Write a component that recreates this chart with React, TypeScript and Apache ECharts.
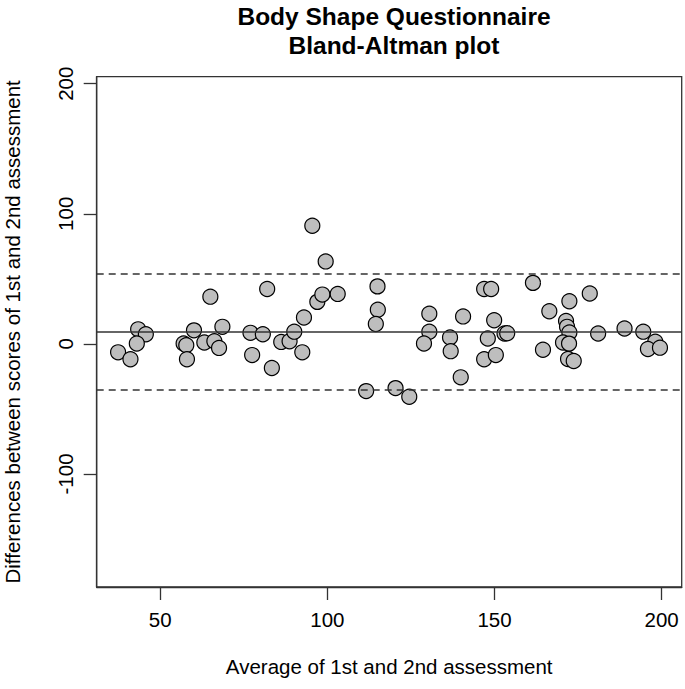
import React, { useEffect, useRef } from "react";
import * as echarts from "echarts";

// Average of 1st and 2nd assessment (x)
const avgScores = [
  37.4, 41.1, 43.4, 45.7, 43.0, 57.0, 57.8, 58.0, 60.1, 65.0, 63.2, 66.2, 67.6, 68.6,
  77.0, 77.5, 80.7, 82.0, 83.4, 86.2, 88.7, 90.1,
  95.5, 99.5, 93.0, 92.5, 97.0, 98.5, 103.1, 115.0, 115.1, 114.5, 111.6, 120.4, 124.5,
  130.5, 130.5, 128.9, 136.7, 136.9, 140.6, 139.9, 146.9, 146.9, 148.0,
  149.0, 149.9, 153.0, 153.8, 150.4, 161.5, 166.4, 172.4, 178.5, 171.4, 171.7, 172.4,
  170.5, 172.3, 164.5, 172.0, 173.7, 181.0, 188.9, 194.5, 198.1, 195.9, 199.5,
];
// Differences between scores of 1st and 2nd assessment (y)
const diffScores = [
  -6.5, -11.8, 11.2, 7.4, 0.3, 0.3, -1.0, -11.8, 10.4, 36.3, 1.1, 2.1, -3.1, 13.1,
  8.5, -8.6, 7.4, 42.2, -18.5, 1.5, 2.0, 9.4,
  90.8, 63.4, 20.3, -6.5, 32.3, 37.9, 38.4, 44.2, 26.3, 15.3, -36.3, -34.0, -40.6,
  23.2, 9.4, 0.3, 4.9, -5.6, 21.1, -25.7, 42.2, -11.8, 4.1,
  42.2, 18.2, 8.0, 8.2, -8.6, 46.9, 25.1, 32.8, 38.7, 17.6, 13.1, 8.8,
  1.1, 0.2, -4.5, -11.6, -13.2, 8.0, 11.8, 9.4, 1.7, -3.9, -2.9,
];

const meanDiff = 9.4;
const upperLoA = 53.8;
const lowerLoA = -35.0;

const xTicks = [50, 100, 150, 200];
const yTicks = [-100, 0, 100, 200];

const titleText = "Body Shape Questionnaire\nBland-Altman plot";
const xTitle = "Average of 1st and 2nd assessment";
const yTitle = "Differences between scores of 1st and 2nd assessment";

const FONT = "'Liberation Sans', Arial, Helvetica, sans-serif";

export default function App() {
  const ref = useRef<HTMLDivElement>(null);
  useEffect(() => {
    if (!ref.current) return;
    const chart = echarts.init(ref.current, null, { renderer: "svg" });
    const points = avgScores.map((x, i) => [x, diffScores[i]]);
    chart.setOption({
      animation: false,
      backgroundColor: "#ffffff",
      title: {
        text: titleText,
        left: 389,
        top: -3,
        textAlign: "center",
        textStyle: {
          fontFamily: FONT,
          fontWeight: "bold",
          fontSize: 24.5,
          lineHeight: 29,
          color: "#000",
        },
      },
      grid: {
        left: 96.7,
        right: 3.3,
        top: 76.7,
        bottom: 102,
        show: true,
        borderColor: "#333",
        borderWidth: 1.3,
        outerBoundsMode: "none",
      },
      xAxis: {
        type: "value",
        min: 31,
        max: 206,
        name: xTitle,
        nameLocation: "middle",
        nameGap: 69,
        nameTextStyle: { fontFamily: FONT, fontSize: 20.5, color: "#000" },
        axisLine: { show: true, onZero: false, lineStyle: { color: "#333", width: 1.3 } },
        axisTick: {
          show: true,
          length: 13,
          customValues: xTicks,
          lineStyle: { color: "#333", width: 1.3 },
        },
        axisLabel: {
          customValues: xTicks,
          margin: 22,
          fontFamily: FONT,
          fontSize: 20.5,
          color: "#000",
        },
        splitLine: { show: false },
      },
      yAxis: {
        type: "value",
        min: -186.9,
        max: 205.4,
        name: yTitle,
        nameLocation: "middle",
        nameGap: 74,
        nameTextStyle: { fontFamily: FONT, fontSize: 20.5, color: "#000" },
        axisLine: { show: true, onZero: false, lineStyle: { color: "#333", width: 1.3 } },
        axisTick: {
          show: true,
          length: 13,
          customValues: yTicks,
          lineStyle: { color: "#333", width: 1.3 },
        },
        axisLabel: {
          customValues: yTicks,
          rotate: 90,
          margin: 21,
          fontFamily: FONT,
          fontSize: 20.5,
          color: "#000",
        },
        splitLine: { show: false },
      },
      series: [
        {
          type: "scatter",
          data: points,
          symbol: "circle",
          symbolSize: 15,
          itemStyle: { color: "#bebebe", borderColor: "#000", borderWidth: 1.2, opacity: 1 },
          markLine: {
            silent: true,
            symbol: ["none", "none"],
            label: { show: false },
            animation: false,
            data: [
              { yAxis: meanDiff, lineStyle: { type: "solid", color: "#333", width: 1.6 } },
              { yAxis: upperLoA, lineStyle: { type: [7, 5], color: "#333", width: 1.6 } },
              { yAxis: lowerLoA, lineStyle: { type: [7, 5], color: "#333", width: 1.6 } },
            ],
          },
          z: 3,
        },
      ],
    });
    return () => chart.dispose();
  }, []);
  return (
    <div
      ref={ref}
      style={{ position: "fixed", left: 0, top: 0, width: 685, height: 689 }}
    />
  );
}
